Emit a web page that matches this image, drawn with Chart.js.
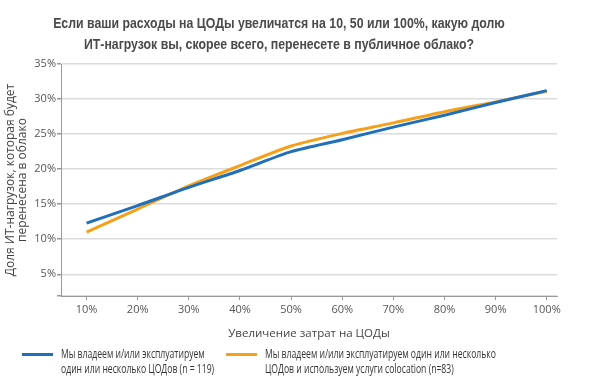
<!DOCTYPE html>
<html>
<head>
<meta charset="utf-8">
<script src="https://cdn.jsdelivr.net/npm/chart.js@4/dist/chart.umd.min.js"></script>
<style>
  html, body { margin: 0; padding: 0; background: #fff; }
  #wrap { position: relative; width: 600px; height: 383px; }
  #chart { position: absolute; left: 0; top: 0; }
  #title {
    position: absolute; left: 0; top: 12px; width: 558px; text-align: center;
    font: bold 15px "Liberation Sans", Arial, sans-serif;
    color: #4a4a4a; line-height: 21px;
    transform: scaleX(0.82); transform-origin: 279px 0;
  }
  .leg { position: absolute; top: 346px; font: 11.8px "Open Sans", sans-serif; color: #333; line-height: 15px; }
  .leg i { position: absolute; left: 0; top: 7px; width: 31px; height: 3px; }
  .leg span { display: block; margin-left: 39px; white-space: nowrap; transform: scaleX(0.73); transform-origin: 0 0; }
</style>
</head>
<body>
<div id="wrap">
  <canvas id="chart" width="600" height="383"></canvas>
  <div id="title">Если ваши расходы на ЦОДы увеличатся на 10, 50 или 100%, какую долю<br>ИТ-нагрузок вы, скорее всего, перенесете в публичное облако?</div>
  <div class="leg" style="left:22px"><i style="background:#1f6fba"></i><span>Мы владеем и/или эксплуатируем<br>один или несколько ЦОДов (n = 119)</span></div>
  <div class="leg" style="left:226px"><i style="background:#f5a01a"></i><span>Мы владеем и/или эксплуатируем один или несколько<br>ЦОДов и используем услуги colocation (n=83)</span></div>
</div>
<script>
// x = cost increase (%), y = share of IT workloads moved to public cloud (%)
const costIncrease = [10, 20, 30, 40, 50, 60, 70, 80, 90, 100];
const ownDataCenters = [12.3, 14.8, 17.4, 19.8, 22.5, 24.2, 26.0, 27.7, 29.5, 31.2];
const ownPlusColocation = [11.0, 14.3, 17.6, 20.5, 23.3, 25.1, 26.6, 28.2, 29.6, 31.1];
const yTicks = [5, 10, 15, 20, 25, 30, 35];
const seriesNames = [
  "Мы владеем и/или эксплуатируем один или несколько ЦОДов (n = 119)",
  "Мы владеем и/или эксплуатируем один или несколько ЦОДов и используем услуги colocation (n=83)",
];

const tickFont = { family: "'Open Sans', sans-serif", size: 11 };
const toPoints = (vals) => vals.map((v, i) => ({ x: costIncrease[i], y: v }));

new Chart(document.getElementById("chart").getContext("2d"), {
  type: "line",
  data: {
    datasets: [
      {
        label: seriesNames[0],
        data: toPoints(ownDataCenters),
        borderColor: "#1f6fba",
        borderWidth: 3,
        pointRadius: 0,
        tension: 0.25,
        fill: false,
      },
      {
        label: seriesNames[1],
        data: toPoints(ownPlusColocation),
        borderColor: "#f5a01a",
        borderWidth: 3,
        pointRadius: 0,
        tension: 0.25,
        fill: false,
      },
    ],
  },
  options: {
    responsive: false,
    animation: false,
    layout: { padding: { left: 0, right: 43, top: 64, bottom: 42 } },
    plugins: { legend: { display: false }, tooltip: { enabled: false } },
    scales: {
      x: {
        type: "linear",
        min: 5,
        max: 102,
        afterBuildTicks: (scale) => {
          scale.ticks = costIncrease.map((v) => ({ value: v }));
        },
        afterFit: (scale) => { scale.height = 45; },
        ticks: {
          padding: 3,
          color: "#555",
          font: tickFont,
          callback: (v) => v + "%",
        },
        grid: { drawOnChartArea: false, drawTicks: true, tickLength: 4, tickColor: "#999" },
        border: { color: "#999", width: 1 },
        title: {
          display: true,
          text: "Увеличение затрат на ЦОДы",
          color: "#444",
          font: { family: "'Open Sans', sans-serif", size: 11.5 },
          padding: { top: 0, bottom: 0 },
        },
      },
      y: {
        min: 1.9,
        max: 35,
        afterBuildTicks: (scale) => {
          scale.ticks = [{ value: 1.9 }].concat(yTicks.map((v) => ({ value: v })));
        },
        afterFit: (scale) => { scale.width = 61; },
        ticks: {
          padding: 1,
          color: "#555",
          font: tickFont,
          callback: (v) => (v % 5 === 0 ? v + "%" : ""),
        },
        grid: { color: "#dcdcdc", lineWidth: 1.5, tickLength: 4, tickColor: "#999" },
        border: { color: "#999", width: 1 },
        title: {
          display: true,
          text: ["Доля ИТ-нагрузок, которая будет", "перенесена в облако"],
          color: "#444",
          font: { family: "'Open Sans', sans-serif", size: 12, lineHeight: 1.05 },
          padding: { top: 4, bottom: 0 },
        },
      },
    },
  },
});
</script>
</body>
</html>
